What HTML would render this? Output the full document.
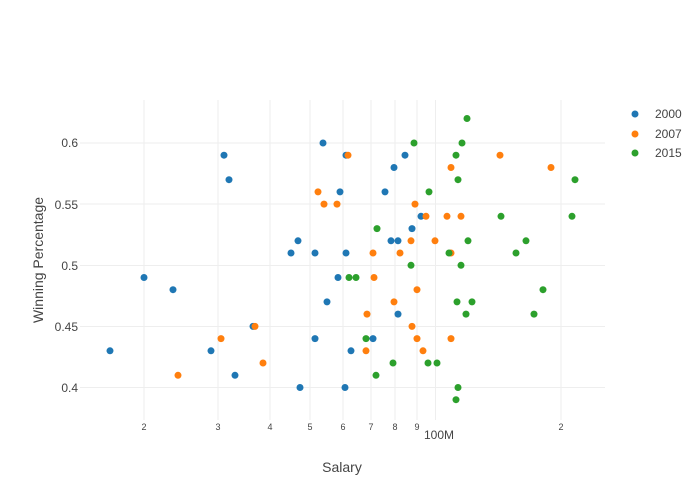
<!DOCTYPE html>
<html><head><meta charset="utf-8"><style>
body{margin:0;background:#fff}
svg{display:block;font-family:"Liberation Sans",sans-serif}
</style></head><body>
<svg id="s" width="700" height="500" xmlns="http://www.w3.org/2000/svg">
<rect width="700" height="500" fill="#fff"/>
<g id="grid" stroke="#eeeeee" stroke-width="1"></g>
<g font-size="12" fill="#444" text-anchor="end">
<text x="78" y="147">0.6</text>
<text x="78" y="209">0.55</text>
<text x="78" y="270">0.5</text>
<text x="78" y="331">0.45</text>
<text x="78" y="392">0.4</text>
</g>
<g id="xt" font-size="9" fill="#444" text-anchor="middle"></g>
<text x="439" y="439" font-size="12" fill="#444" text-anchor="middle">100M</text>
<text x="342" y="472" font-size="14" fill="#444" text-anchor="middle">Salary</text>
<text transform="translate(43,260) rotate(-90)" font-size="14" fill="#444" text-anchor="middle">Winning Percentage</text>
<g id="pts"></g>
<g font-size="12" fill="#444">
<circle cx="635" cy="114" r="3.5" fill="#1f77b4"/><text x="655" y="118">2000</text>
<circle cx="635" cy="134" r="3.5" fill="#ff7f0e"/><text x="655" y="138">2007</text>
<circle cx="635" cy="153" r="3.5" fill="#2ca02c"/><text x="655" y="157">2015</text>
</g>
</svg>
<script>
var NS="http://www.w3.org/2000/svg";
function el(p,t,a,txt){var e=document.createElementNS(NS,t);for(var k in a)e.setAttribute(k,a[k]);if(txt)e.textContent=txt;document.getElementById(p).appendChild(e);}
[143,204,265.5,326.5,387.5].forEach(function(y){el("grid","line",{x1:80,x2:605,y1:y,y2:y});});
var xs=[[144,"2"],[218,"3"],[270,"4"],[310,"5"],[343,"6"],[371,"7"],[395,"8"],[417,"9"],[435.5,""],[561,"2"]];
xs.forEach(function(g){el("grid","line",{x1:g[0],x2:g[0],y1:100,y2:420});if(g[1])el("xt","text",{x:g[0],y:430},g[1]);});
function Y(v){return 143+(0.6-v)*1222.5;}
var B=[[110,.43],[144,.49],[173,.48],[211,.43],[224,.59],[229,.57],[235,.41],[253,.45],[291,.51],[298,.52],[300,.40],[315,.44],[315,.51],[323,.60],[327,.47],[338,.49],[340,.56],[346,.51],[345,.40],[351,.43],[346,.59],[385,.56],[394,.58],[405,.59],[421,.54],[412,.53],[391,.52],[398,.52],[398,.46],[373,.44]];
var O=[[178,.41],[221,.44],[255,.45],[263,.42],[318,.56],[324,.55],[337,.55],[348,.59],[373,.51],[374,.49],[367,.46],[366,.43],[394,.47],[400,.51],[411,.52],[412,.45],[415,.55],[417,.48],[417,.44],[423,.43],[426,.54],[435,.52],[447,.54],[451,.58],[451,.51],[451,.44],[461,.54],[500,.59],[551,.58]];
var G=[[349,.49],[356,.49],[377,.53],[366,.44],[376,.41],[393,.42],[411,.50],[414,.60],[429,.56],[428,.42],[437,.42],[449,.51],[456,.59],[457,.47],[458,.57],[461,.50],[462,.60],[466,.46],[467,.62],[468,.52],[472,.47],[456,.39],[458,.40],[501,.54],[516,.51],[526,.52],[534,.46],[543,.48],[572,.54],[575,.57]];
[[B,"#1f77b4"],[O,"#ff7f0e"],[G,"#2ca02c"]].forEach(function(s){s[0].forEach(function(p){el("pts","circle",{cx:p[0],cy:Y(p[1]).toFixed(1),r:3.5,fill:s[1]});});});
</script>
</body></html>
